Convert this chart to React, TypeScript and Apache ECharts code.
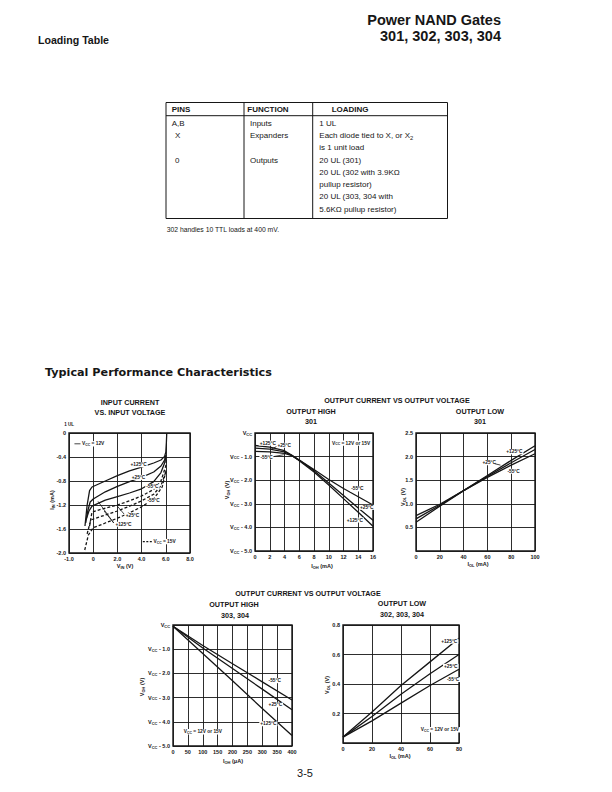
import React, { useEffect, useRef } from "react";
import * as echarts from "echarts";

const FONT = "Liberation Sans";
const INK = "#161616";

// ---------------- Loading table ----------------
const tableHeaders = ["PINS", "FUNCTION", "LOADING"];
const tablePins = ["A,B", "X", "0"];
const tableFunctions = ["Inputs", "Expanders", "Outputs"];
const tableLoadingLines = [
  "1 UL",
  "Each diode tied to X, or X_2",
  "is 1 unit load",
  "20 UL (301)",
  "20 UL (302 with 3.9KΩ",
  "pullup resistor)",
  "20 UL (303, 304 with",
  "5.6KΩ pullup resistor)",
];
const tableNote = "302 handles 10 TTL loads at 400 mV.";

// ---------------- Chart 1: input current vs input voltage ----------------
const c1XTicks = ["-1.0", "0", "2.0", "4.0", "6.0", "8.0"];
const c1YTicks = ["-2.0", "-1.6", "-1.2", "-0.8", "-0.4", "0"];
const c1Vcc12_p125 = [[-0.68, -1.55], [-0.5, -1.2], [-0.3, -0.96], [-0.1, -0.9], [1, -0.8], [2, -0.71], [3, -0.63], [4, -0.57], [5, -0.5], [5.6, -0.45], [5.9, -0.39], [6.0, -0.32], [6.05, -0.15], [6.08, 0]];
const c1Vcc12_p25 = [[-0.62, -1.5], [-0.45, -1.3], [-0.25, -1.15], [0, -1.1], [1, -0.98], [2, -0.89], [3, -0.81], [4, -0.74], [5, -0.65], [5.6, -0.55], [5.9, -0.45], [6.0, -0.37]];
const c1Vcc12_m55 = [[-0.55, -1.42], [-0.35, -1.3], [-0.1, -1.22], [1, -1.12], [2, -1.06], [3, -1.0], [4, -0.93], [5, -0.81], [5.6, -0.66], [5.9, -0.5], [6.0, -0.4]];
const c1Vcc15_p125 = [[-0.3, -1.55], [-0.1, -1.32], [0.5, -1.28], [2, -1.2], [3, -1.13], [4, -1.05], [5, -0.94], [5.6, -0.8], [6.0, -0.55], [6.05, -0.4]];
const c1Vcc15_p25 = [[-0.5, -1.68], [-0.2, -1.45], [0.5, -1.4], [2, -1.3], [3, -1.22], [4, -1.13], [5, -1.02], [5.6, -0.88], [6.0, -0.65]];
const c1Vcc15_m55 = [[-0.7, -1.95], [-0.4, -1.7], [0, -1.58], [1, -1.5], [2, -1.42], [3, -1.33], [4, -1.23], [5, -1.1], [5.7, -0.9], [6.05, -0.6]];

// ---------------- Chart 2: output high 301 ----------------
const c2XTicks = ["0", "2", "4", "6", "8", "10", "12", "14", "16"];
const c2YTicks = ["V_CC - 5.0", "V_CC - 4.0", "V_CC - 3.0", "V_CC - 2.0", "V_CC - 1.0", "V_CC"];
const c2m55 = [[0, -0.78], [2, -0.8], [4, -0.86], [5, -0.96], [6, -1.15], [8, -1.55], [10, -1.97], [12, -2.35], [14, -2.7], [16, -3.05]];
const c2p25 = [[0, -0.64], [2, -0.68], [4, -0.8], [5, -0.95], [6, -1.15], [8, -1.6], [10, -2.12], [12, -2.65], [14, -3.18], [16, -3.7]];
const c2p125 = [[0, -0.53], [2, -0.6], [4, -0.75], [5, -0.95], [6, -1.18], [8, -1.65], [10, -2.2], [12, -2.78], [14, -3.36], [16, -3.95]];

// ---------------- Chart 3: output low 301 ----------------
const c3XTicks = ["0", "20", "40", "60", "80", "100"];
const c3YTicks = ["", "0.5", "1.0", "1.5", "2.0", "2.5"];
const c3m55 = [[0, 0.75], [20, 0.99], [40, 1.28], [60, 1.56], [80, 1.82], [100, 2.06]];
const c3p25 = [[0, 0.68], [20, 0.97], [40, 1.28], [60, 1.58], [80, 1.87], [100, 2.15]];
const c3p125 = [[0, 0.61], [20, 0.95], [40, 1.28], [60, 1.6], [80, 1.92], [100, 2.23]];

// ---------------- Chart 4: output high 303, 304 ----------------
const c4XTicks = ["0", "50", "100", "150", "200", "250", "300", "350", "400"];
const c4YTicks = ["V_CC - 5.0", "V_CC - 4.0", "V_CC - 3.0", "V_CC - 2.0", "V_CC - 1.0", "V_CC"];
const c4m55 = [[0, -0.05], [100, -0.85], [200, -1.6], [300, -2.35], [400, -3.1]];
const c4p25 = [[0, -0.05], [100, -0.95], [200, -1.8], [300, -2.65], [400, -3.5]];
const c4p125 = [[0, -0.05], [100, -1.18], [200, -2.3], [300, -3.45], [400, -4.57]];

// ---------------- Chart 5: output low 302, 303, 304 ----------------
const c5XTicks = ["0", "20", "40", "60", "80"];
const c5YTicks = ["", "0.2", "0.4", "0.6", "0.8"];
const c5p125 = [[0, 0.04], [20, 0.21], [40, 0.39], [60, 0.55], [80, 0.71]];
const c5p25 = [[0, 0.04], [20, 0.18], [40, 0.33], [60, 0.47], [80, 0.6]];
const c5m55 = [[0, 0.04], [20, 0.15], [40, 0.27], [60, 0.39], [80, 0.5]];

// ---------------- annotations (data coordinates per grid) ----------------
type Ann = { g: number; at: number[]; text: string };
const annotations: Ann[] = [
  { g: 0, at: [3.0, -0.53], text: "+125°C" },
  { g: 0, at: [3.1, -0.74], text: "+25°C" },
  { g: 0, at: [4.3, -0.89], text: "-55°C" },
  { g: 0, at: [4.4, -1.13], text: "-55°C" },
  { g: 0, at: [2.6, -1.37], text: "+25°C" },
  { g: 0, at: [1.75, -1.52], text: "+125°C" },
  { g: 0, at: [-1.0, -0.18], text: "V_CC = 12V" },
  { g: 0, at: [4.9, -1.81], text: "V_CC = 15V" },
  { g: 1, at: [0.5, -0.43], text: "+125°C" },
  { g: 1, at: [2.9, -0.52], text: "+25°C" },
  { g: 1, at: [0.6, -1.02], text: "-55°C" },
  { g: 1, at: [10.3, -0.43], text: "V_CC = 12V or 15V" },
  { g: 1, at: [12.9, -2.37], text: "-55°C" },
  { g: 1, at: [14.1, -3.15], text: "+25°C" },
  { g: 1, at: [12.3, -3.69], text: "+125°C" },
  { g: 2, at: [75, 2.1], text: "+125°C" },
  { g: 2, at: [55, 1.87], text: "+25°C" },
  { g: 2, at: [76, 1.69], text: "-55°C" },
  { g: 3, at: [318, -2.3], text: "-55°C" },
  { g: 3, at: [318, -3.3], text: "+25°C" },
  { g: 3, at: [290, -4.08], text: "+125°C" },
  { g: 3, at: [33, -4.41], text: "V_CC = 12V or 15V" },
  { g: 4, at: [67, 0.69], text: "+125°C" },
  { g: 4, at: [69, 0.52], text: "+25°C" },
  { g: 4, at: [71, 0.43], text: "-55°C" },
  { g: 4, at: [53, 0.09], text: "V_CC = 12V or 15V" },
];
type Leader = { g: number; from: number[]; to: number[]; dashed?: boolean };
const leaders: Leader[] = [
  { g: 0, from: [1.7, -1.5], to: [0.4, -1.14] },
  { g: 0, from: [1.7, -1.5], to: [0.9, -1.3] },
  { g: 0, from: [2.55, -1.35], to: [2.0, -1.22] },
  { g: 0, from: [-1.55, -0.18], to: [-1.05, -0.18] },
  { g: 0, from: [4.1, -1.81], to: [4.85, -1.81], dashed: true },
  { g: 1, from: [2.9, -0.58], to: [2.2, -0.68] },
  { g: 1, from: [2.5, -1.0], to: [3.9, -0.92] },
  { g: 2, from: [66, 1.85], to: [71, 1.82] },
];

// ---------------- layout ----------------
const gridBoxes = [
  { left: 69, top: 433, width: 121, height: 120 },
  { left: 255, top: 433, width: 118, height: 118 },
  { left: 416, top: 433, width: 119, height: 118 },
  { left: 173, top: 625, width: 119, height: 121 },
  { left: 343, top: 625, width: 116, height: 118 },
];

function rich(s: string) {
  if (s.indexOf("_") < 0) return s;
  const parts = s.split(/(_[A-Za-z0-9]+)/).filter((p) => p.length);
  return parts.map((p) => (p.startsWith("_") ? `{s|${p.slice(1)}}` : `{v|${p}}`)).join("");
}
function richStyles(size: number, weight: string, family: string) {
  return {
    v: { fontSize: size, fontWeight: weight, fontFamily: family, fill: INK, color: INK },
    s: { fontSize: size * 0.72, fontWeight: weight, fontFamily: family, fill: INK, color: INK, padding: [size * 0.5, 0, 0, 0] },
  };
}
function txt(x: number, y: number, text: string, o: any = {}) {
  const size = o.size ?? 6;
  const weight = o.weight ?? "normal";
  const family = o.family ?? FONT;
  return {
    type: "text",
    x,
    y,
    rotation: o.rot ?? 0,
    silent: true,
    z: 10,
    style: {
      text: rich(text),
      fill: INK,
      align: o.align ?? "left",
      verticalAlign: o.va ?? "middle",
      fontSize: size,
      fontWeight: weight,
      fontFamily: family,
      backgroundColor: o.bg,
      padding: o.bg ? [0, 1] : 0,
      rich: richStyles(size, weight, family),
    },
  };
}
function hline(x1: number, y1: number, x2: number, y2: number, w = 1, dash?: number[]) {
  return {
    type: "line",
    silent: true,
    z: 10,
    shape: { x1, y1, x2, y2 },
    style: { stroke: INK, lineWidth: w, lineDash: dash },
  };
}

function axis(gridIndex: number, min: number, max: number, interval: number, ticks: string[]) {
  return {
    type: "value",
    gridIndex,
    min,
    max,
    interval,
    axisLine: { show: false },
    axisTick: { show: false },
    splitLine: { show: true, lineStyle: { color: INK, width: 0.9 } },
    axisLabel: {
      fontSize: 5.5,
      fontWeight: "bold",
      color: INK,
      fontFamily: FONT,
      margin: 3,
      formatter: (v: number) => rich(ticks[Math.round((v - min) / interval)] ?? ""),
      rich: richStyles(5.5, "bold", FONT),
    },
  };
}

function line(g: number, data: number[][], dashed = false) {
  return {
    type: "line",
    xAxisIndex: g,
    yAxisIndex: g,
    data,
    symbol: "none",
    silent: true,
    lineStyle: { color: INK, width: 1.3, type: dashed ? [3, 2] : "solid" },
  };
}

function buildOption() {
  return {
    animation: false,
    backgroundColor: "#fff",
    grid: gridBoxes.map((b) => ({ ...b, show: true, borderColor: INK, borderWidth: 1.4, backgroundColor: "transparent" })),
    xAxis: [
      axis(0, -2, 8, 2, c1XTicks),
      axis(1, 0, 16, 2, c2XTicks),
      axis(2, 0, 100, 20, c3XTicks),
      axis(3, 0, 400, 50, c4XTicks),
      axis(4, 0, 80, 20, c5XTicks),
    ],
    yAxis: [
      axis(0, -2, 0, 0.4, c1YTicks),
      axis(1, -5, 0, 1, c2YTicks),
      axis(2, 0, 2.5, 0.5, c3YTicks),
      axis(3, -5, 0, 1, c4YTicks),
      axis(4, 0, 0.8, 0.2, c5YTicks),
    ],
    series: [
      line(0, c1Vcc12_p125),
      line(0, c1Vcc12_p25),
      line(0, c1Vcc12_m55),
      line(0, c1Vcc15_p125, true),
      line(0, c1Vcc15_p25, true),
      line(0, c1Vcc15_m55, true),
      line(1, c2m55),
      line(1, c2p25),
      line(1, c2p125),
      line(2, c3m55),
      line(2, c3p25),
      line(2, c3p125),
      line(3, c4m55),
      line(3, c4p25),
      line(3, c4p125),
      line(4, c5p125),
      line(4, c5p25),
      line(4, c5m55),
    ],
  };
}

function staticGraphics() {
  const g: any[] = [];
  // header
  g.push(txt(38, 40, "Loading Table", { size: 10.6, weight: "bold" }));
  g.push(txt(501, 20, "Power NAND Gates", { size: 14.5, weight: "bold", align: "right" }));
  g.push(txt(501, 36, "301, 302, 303, 304", { size: 14.5, weight: "bold", align: "right" }));
  // table
  const tl = 166, tr = 447.5, tt = 102.5, tb = 218.5;
  g.push({ type: "rect", silent: true, shape: { x: tl, y: tt, width: tr - tl, height: tb - tt }, style: { fill: "none", stroke: INK, lineWidth: 1 } });
  g.push(hline(tl, 115.7, tr, 115.7, 1));
  g.push(hline(244, tt, 244, tb, 1));
  g.push(hline(312.7, tt, 312.7, tb, 1));
  const hx = [171.7, 247.3, 331.7];
  tableHeaders.forEach((h, i) => g.push(txt(hx[i], 109.3, h, { size: 8, weight: "bold" })));
  const rowY = [123.3, 135.7, 147.7, 160, 172.3, 184.3, 196.7, 209];
  const pinRows = [0, 1, 3];
  const pinX = [171.7, 175, 175];
  tablePins.forEach((p, i) => g.push(txt(pinX[i], rowY[pinRows[i]], p, { size: 8 })));
  tableFunctions.forEach((f, i) => g.push(txt(250, rowY[pinRows[i]], f, { size: 8 })));
  tableLoadingLines.forEach((l, i) => g.push(txt(319.3, rowY[i], l, { size: 8 })));
  g.push(txt(166.7, 229, tableNote, { size: 6.8 }));
  // section title
  g.push(txt(45, 372, "Typical Performance Characteristics", { size: 11.2, weight: "bold", family: "DejaVu Sans" }));
  // chart titles
  const T = { size: 7.2, weight: "bold", align: "center" };
  g.push(txt(130, 402, "INPUT CURRENT", T));
  g.push(txt(130, 412, "VS. INPUT VOLTAGE", T));
  g.push(txt(397, 400, "OUTPUT CURRENT VS OUTPUT VOLTAGE", T));
  g.push(txt(311, 411.5, "OUTPUT HIGH", T));
  g.push(txt(311, 421.5, "301", T));
  g.push(txt(480, 411.5, "OUTPUT LOW", T));
  g.push(txt(480, 421.5, "301", T));
  g.push(txt(308, 593, "OUTPUT CURRENT VS OUTPUT VOLTAGE", T));
  g.push(txt(234, 604.5, "OUTPUT HIGH", T));
  g.push(txt(235, 615.5, "303, 304", T));
  g.push(txt(402, 603.5, "OUTPUT LOW", T));
  g.push(txt(402, 614.5, "302, 303, 304", T));
  // axis names
  const A = { size: 5.5, weight: "bold", align: "center" };
  const R = { ...A, rot: Math.PI / 2 };
  g.push(txt(69, 424, "1 UL", { size: 4.5, weight: "bold", align: "center" }));
  g.push(txt(52, 500, "I_IN (mA)", R));
  g.push(txt(125, 566, "V_IN (V)", A));
  g.push(txt(227, 490, "V_OH (V)", R));
  g.push(txt(322, 566, "I_OH (mA)", A));
  g.push(txt(403, 497, "V_OL (V)", R));
  g.push(txt(478, 564, "I_OL (mA)", A));
  g.push(txt(142, 687, "V_OH (V)", R));
  g.push(txt(233, 761, "I_OH (μA)", A));
  g.push(txt(327, 685, "V_OL (V)", R));
  g.push(txt(400, 756, "I_OL (mA)", A));
  // page number
  g.push(txt(305, 773, "3-5", { size: 11, align: "center" }));
  return g;
}

function dynamicGraphics(chart: any) {
  const g: any[] = [];
  annotations.forEach((a) => {
    const p = chart.convertToPixel({ gridIndex: a.g }, a.at);
    if (p) g.push(txt(p[0], p[1], a.text, { size: 4.8, weight: "bold", bg: "#fff" }));
  });
  leaders.forEach((l) => {
    const p1 = chart.convertToPixel({ gridIndex: l.g }, l.from);
    const p2 = chart.convertToPixel({ gridIndex: l.g }, l.to);
    if (p1 && p2) g.push(hline(p1[0], p1[1], p2[0], p2[1], l.dashed ? 1.1 : 0.8, l.dashed ? [2, 1.5] : undefined));
  });
  return g;
}

export default function App() {
  const ref = useRef<HTMLDivElement>(null);
  useEffect(() => {
    const el = ref.current;
    if (!el) return;
    const chart = echarts.init(el, null, { renderer: "svg" });
    chart.setOption(buildOption() as any);
    chart.setOption({ graphic: [...staticGraphics(), ...dynamicGraphics(chart)] } as any);
    return () => chart.dispose();
  }, []);
  return (
    <div
      ref={ref}
      style={{ position: "absolute", left: 0, top: 0, width: 612, height: 792, background: "#fff" }}
    />
  );
}
